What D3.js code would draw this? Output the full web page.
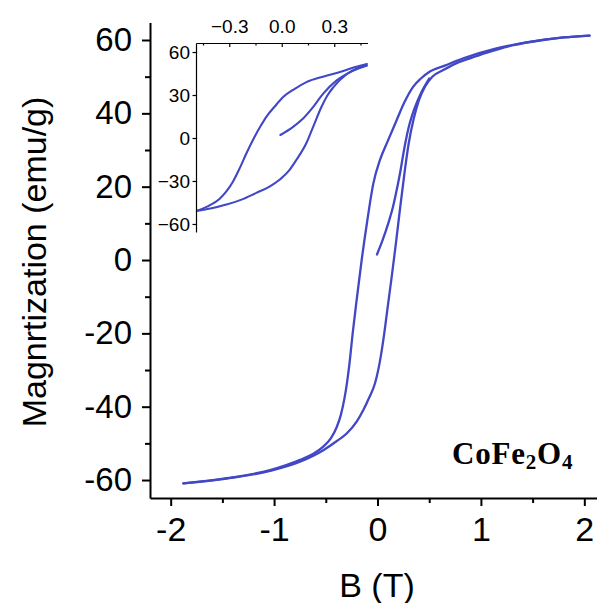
<!DOCTYPE html>
<html><head><meta charset="utf-8">
<script src="https://cdn.jsdelivr.net/npm/d3@7"></script>
<style>body{margin:0;background:#fff}svg{display:block}</style>
</head><body>
<script>
// ---- data (B in T, M in emu/g) ----
const mainDescB = [[2.05,61.2],[1.8,60.7],[1.47,59.5],[1.15,57.7],[0.83,55],[0.65,53],[0.507,51.4],[0.42,49.5],[0.346,47.3],[0.26,43],[0.186,38.2],[0.1,32.5],[0.024,27.3],[-0.04,20.9],[-0.1,10.5],[-0.153,0],[-0.2,-10.5],[-0.24,-20],[-0.27,-28],[-0.295,-33.5],[-0.32,-37.8],[-0.355,-42.3],[-0.395,-45.6],[-0.45,-48.6],[-0.524,-50.9],[-0.62,-52.8],[-0.749,-54.5],[-1.039,-57.3],[-1.457,-59.5],[-1.877,-60.9]];
const mainAscB = [[-1.877,-60.9],[-1.457,-59.6],[-1.039,-57.5],[-0.749,-55],[-0.52,-51.8],[-0.4,-49.5],[-0.298,-47.3],[-0.2,-44],[-0.137,-40.9],[-0.08,-37.5],[-0.024,-33.6],[0.031,-26.4],[0.063,-20.5],[0.1,-12.5],[0.14,-4],[0.18,5],[0.22,14.5],[0.26,23.5],[0.3,31.5],[0.35,38.5],[0.4,43.5],[0.46,47.3],[0.53,50],[0.636,51.8],[0.75,53.5],[0.894,55],[1.05,56.5],[1.3,58.5],[1.6,60],[1.8,60.7],[2.05,61.2]];
const mainVirgin = [[-0.005,1.5],[0.05,5.5],[0.104,10],[0.15,14.5],[0.185,19],[0.22,24],[0.25,29],[0.3,36],[0.36,41.5],[0.42,45.5],[0.5,49.5]];

const insetDesc = [[0.486,51.7],[0.42,49.5],[0.333,46],[0.24,43],[0.141,39],[0.07,34],[0.008,28.6],[-0.04,22],[-0.088,14.8],[-0.12,8.5],[-0.155,0.9],[-0.203,-11],[-0.24,-21],[-0.279,-30.5],[-0.32,-37.8],[-0.356,-42.6],[-0.42,-47.5],[-0.489,-51]];
const insetAsc = [[-0.489,-51],[-0.4,-49],[-0.317,-46.4],[-0.23,-43],[-0.145,-38.3],[-0.07,-34],[-0.011,-29],[0.04,-23],[0.084,-15.2],[0.141,-3.5],[0.18,8],[0.228,22],[0.26,29.5],[0.294,35.3],[0.371,44.6],[0.43,48.5],[0.486,50.6]];
const insetVirgin = [[-0.008,2.1],[0.065,7.8],[0.122,13.6],[0.18,21.7],[0.237,31],[0.314,40.2],[0.409,47],[0.486,50.6]];

const xTicks = [-2,-1,0,1,2];
const xMinorTicks = [-1.5,-0.5,0.5,1.5];
const yTicks = [-60,-40,-20,0,20,40,60];
const yMinorTicks = [-50,-30,-10,10,30,50];
const insetXTicks = [-0.3,0,0.3];
const insetXMinorTicks = [-0.45,-0.15,0.15,0.45];
const insetYTicks = [-60,-30,0,30,60];

const W = 597, H = 603;
const color = "#4147c5";
const sans = "'Liberation Sans', Arial, sans-serif";

const svg = d3.select("body").append("svg").attr("width", W).attr("height", H);

const x = d3.scaleLinear().domain([-2.2, 2.2]).range([150, 605]);
const y = d3.scaleLinear().domain([-64.9, 64.8]).range([498, 22.4]);

const hyph = v => String(v);
const asc = arr => arr.slice().sort((a, b) => a[0] - b[0]);

function styleAxis(g, fs, sw) {
  g.selectAll("path.domain").attr("stroke", "#000").attr("stroke-width", sw);
  g.selectAll(".tick line").attr("stroke", "#000").attr("stroke-width", sw);
  g.selectAll("text").attr("fill", "#000").style("font-family", sans).style("font-size", fs + "px");
}

// main x axis
const gx = svg.append("g").attr("transform", "translate(0,498)")
  .call(d3.axisBottom(x).tickValues(xTicks).tickSize(8).tickSizeOuter(0).tickPadding(11).tickFormat(hyph));
styleAxis(gx, 34, 2);
const gxm = svg.append("g").attr("transform", "translate(0,498)")
  .call(d3.axisBottom(x).tickValues(xMinorTicks).tickSize(5).tickFormat(""));
gxm.select("path.domain").remove();
styleAxis(gxm, 34, 2);

// main y axis
const gy = svg.append("g").attr("transform", "translate(150,0)")
  .call(d3.axisLeft(y).tickValues(yTicks).tickSize(8).tickSizeOuter(0).tickPadding(10).tickFormat(hyph));
styleAxis(gy, 33, 2);
const gym = svg.append("g").attr("transform", "translate(150,0)")
  .call(d3.axisLeft(y).tickValues(yMinorTicks).tickSize(5).tickFormat(""));
gym.select("path.domain").remove();
styleAxis(gym, 33, 2);

// axis titles
svg.append("text").attr("x", 377).attr("y", 597).attr("text-anchor", "middle")
  .style("font-family", sans).style("font-size", "34px").text("B (T)");
svg.append("text").attr("transform", "translate(46,262) rotate(-90)").attr("text-anchor", "middle")
  .style("font-family", sans).style("font-size", "34px").text("Magnrtization (emu/g)");

// main curves
const line = d3.line().x(d => x(d[0])).y(d => y(d[1])).curve(d3.curveMonotoneX);
[mainDescB, mainAscB, mainVirgin].forEach(d => {
  svg.append("path").datum(asc(d)).attr("d", line).attr("fill", "none")
    .attr("stroke", color).attr("stroke-width", 2.3).attr("stroke-linejoin", "round").attr("stroke-linecap", "round");
});

// ---- inset ----
const ix = d3.scaleLinear().domain([-0.49, 0.49]).range([196, 367.5]);
const iy = d3.scaleLinear().domain([-65.6, 66.3]).range([232, 43]);

svg.append("clipPath").attr("id", "iclip").append("rect")
  .attr("x", 196).attr("y", 43).attr("width", 367.5 - 196 + 2).attr("height", 232 - 43);

const iline = d3.line().x(d => ix(d[0])).y(d => iy(d[1])).curve(d3.curveMonotoneX);
const ig = svg.append("g").attr("clip-path", "url(#iclip)");
[insetDesc, insetAsc, insetVirgin].forEach(d => {
  ig.append("path").datum(asc(d)).attr("d", iline).attr("fill", "none")
    .attr("stroke", color).attr("stroke-width", 2.1).attr("stroke-linejoin", "round").attr("stroke-linecap", "round");
});

const itop = svg.append("g").attr("transform", "translate(0,43)")
  .call(d3.axisTop(ix).tickValues(insetXTicks).tickSize(-4).tickSizeOuter(0).tickPadding(10).tickFormat(d3.format(".1f")));
styleAxis(itop, 19, 1.2);
const itopm = svg.append("g").attr("transform", "translate(0,43)")
  .call(d3.axisTop(ix).tickValues(insetXMinorTicks).tickSize(-2.5).tickFormat(""));
itopm.select("path.domain").remove();
styleAxis(itopm, 19, 1.2);

const ileft = svg.append("g").attr("transform", "translate(196,0)")
  .call(d3.axisLeft(iy).tickValues(insetYTicks).tickSize(3.5).tickSizeOuter(0).tickPadding(2.5).tickFormat(d3.format("d")));
styleAxis(ileft, 19, 1.2);

// compound label
const lab = svg.append("text").attr("x", 452).attr("y", 464)
  .style("font-family", "'Liberation Serif', 'Times New Roman', serif").style("font-weight", "bold")
  .style("font-size", "31px").style("letter-spacing", "0.8px");
lab.append("tspan").text("CoFe");
lab.append("tspan").attr("dy", 5).style("font-size", "21px").text("2");
lab.append("tspan").attr("dy", -5).text("O");
lab.append("tspan").attr("dy", 5).style("font-size", "21px").text("4");
</script>
</body></html>
